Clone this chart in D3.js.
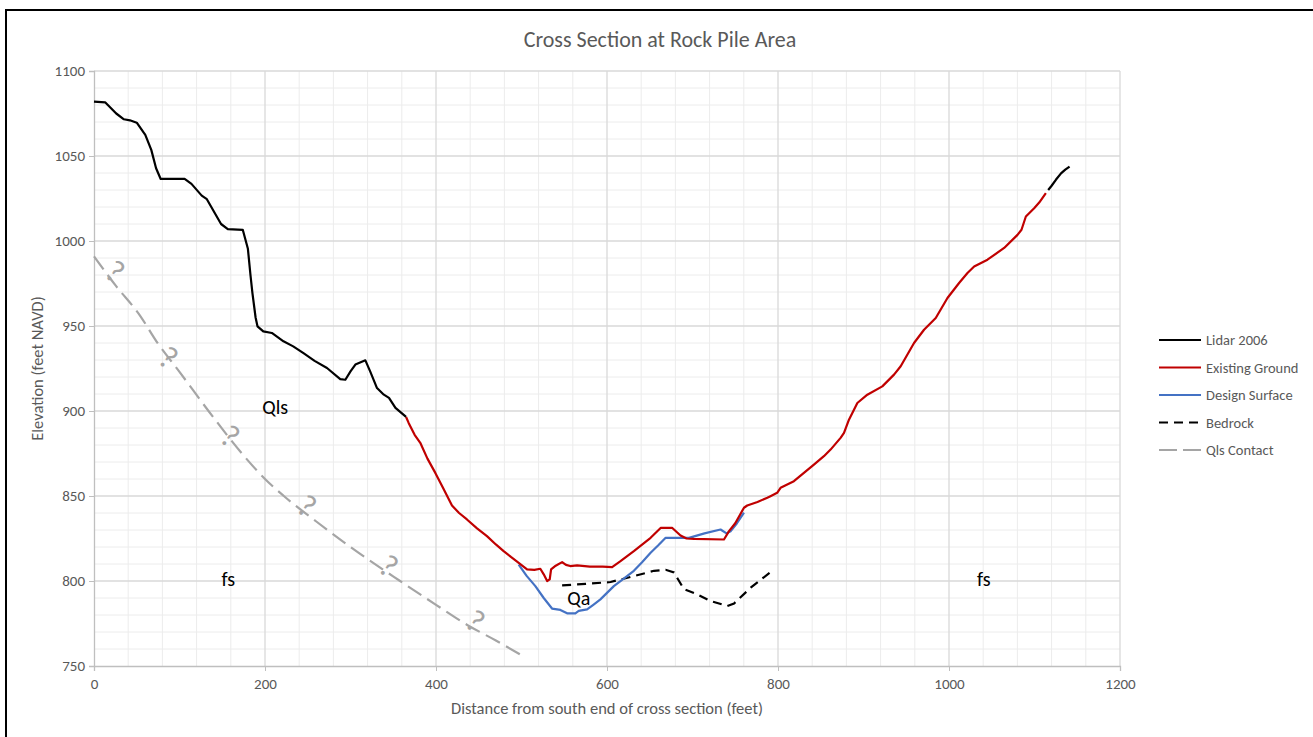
<!DOCTYPE html>
<html><head><meta charset="utf-8">
<script src="https://cdn.jsdelivr.net/npm/d3@7"></script>
<style>
html,body{margin:0;padding:0;background:#fff;}
svg{display:block;font-family:Carlito,Lato,"Open Sans",sans-serif;}
</style></head>
<body>
<svg id="chart" width="1313" height="737"></svg>
<script>
const title = "Cross Section at Rock Pile Area";
const xTitle = "Distance from south end of cross section (feet)";
const yTitle = "Elevation (feet NAVD)";
const xTicks = [0, 200, 400, 600, 800, 1000, 1200];
const yTicks = [750, 800, 850, 900, 950, 1000, 1050, 1100];
const seriesNames = ["Lidar 2006", "Existing Ground", "Design Surface", "Bedrock", "Qls Contact"];

const lidarLeft = [[0,1082],[13,1081.6],[26,1075],[35,1071.6],[42,1071],[50,1069.6],[60,1062.4],[67,1053.6],[72.6,1042.8],[78,1036.5],[106,1036.5],[114,1033.6],[126,1026.7],[132,1024.6],[148.6,1010],[156.5,1007],[174,1006.6],[180,995.4],[183,980],[185.3,969.4],[189,955],[191.2,949.8],[198,946.8],[208,945.9],[221.6,941],[233,938],[245,934],[258,929.5],[272.5,925.3],[288,918.8],[294,918.4],[300,923.3],[305.7,927.3],[317.4,929.8],[323,923.3],[331,913.5],[339,909.6],[345,907.7],[352.6,901.8],[365,896.5]];
const lidarRight = [[1116,1030],[1120,1032.5],[1125,1036],[1131,1039.8],[1136,1042],[1141,1043.8]];
const existingGround = [[365,896.5],[368,893],[375,886],[381.6,881.3],[390,872],[399.2,863.6],[408,855],[418.7,844.4],[427,840],[436.2,836.2],[448,831],[459.6,826.4],[470,821.5],[479.1,817.6],[488,814],[496.7,810.7],[506.5,806.8],[515,806.5],[522,807.2],[526,803.9],[530,800],[533,801],[534.6,806.8],[540,809],[547.5,811.1],[552,809.5],[557,808.8],[565,809.2],[580,808.5],[595,808.5],[606,808.2],[615.8,811.7],[631.4,817.6],[651,825.4],[662.7,831.2],[676.4,831.2],[686,826.8],[693,825],[701.7,824.8],[736.8,824.4],[742.7,829.3],[750,834],[760.2,843.1],[764,844.4],[776,846.5],[787.5,849],[791.2,849.9],[799,851.9],[803,854.8],[818.6,858.7],[830.3,863.6],[842,868.5],[853.7,873.4],[861.5,877.3],[873.2,884.2],[877.2,887.1],[883,894.9],[892.8,904.7],[904.5,909.6],[922,914.5],[935.7,921.4],[943.5,926.3],[959.1,940],[970.8,947.8],[984.5,954.7],[998.2,966.5],[1011.8,975.3],[1021.6,981.2],[1029.4,985],[1045,989],[1064.5,995.9],[1080.1,1003.6],[1084.8,1006.6],[1089.9,1014.4],[1099.6,1019.3],[1105.5,1022.6],[1113.3,1028.1]];
const designSurface = [[496.7,809.7],[506,803],[516.2,797],[526,790],[535.7,783.8],[545.5,783],[553.3,781],[563,781],[566.9,782.4],[576.7,783.3],[584,786],[592.3,789.2],[600,793],[608,797],[620,801.5],[631.4,806],[641,811],[651,816.6],[660,821],[668.6,825.4],[695.9,825.4],[714,828],[732.8,830.3],[739.8,828],[744.5,829.3],[752,834],[760.2,840.2]];
const bedrock = [[547.5,797.4],[575,798.3],[604.2,799.4],[631.4,802.9],[655,806],[668.6,806.6],[678.3,805],[690,795.2],[705.7,792.1],[721.3,788.2],[740.8,785.3],[748.6,786.8],[768.1,796.1],[791.5,805.3]];
const qlsContact = [[0,991],[25,974],[54,956],[73,941],[100,923],[140,896],[173,875],[200,860],[222,850],[260,835],[300,820],[358,800],[400,786],[437,774],[470,765],[501,756]];
const queryMarks = [[24.6,982],[87,931.2],[159.2,885.1],[249,844],[344.5,808.8],[446,776.4]];
const unitLabels = [["Qls",212,902.6],["fs",157,801],["fs",1040.7,801],["Qa",567,790]];

const FONT = "Carlito,Lato,sans-serif";
const svg = d3.select("#chart");
const W = 1313, H = 737;
const m = {left:94, right:1120, top:71, bottom:666};
const x = d3.scaleLinear().domain([0,1200]).range([m.left, m.right]);
const y = d3.scaleLinear().domain([750,1100]).range([m.bottom, m.top]);

svg.append("rect").attr("width",W).attr("height",H).attr("fill","#fff");
svg.append("path").attr("d",`M6,${H+2} V10 H${W+2}`).attr("fill","none").attr("stroke","#000").attr("stroke-width",2);

const g = svg.append("g");
g.selectAll(".mx").data(d3.range(0,1201,40).filter(v=>v%200!==0)).join("line")
  .attr("x1",d=>x(d)).attr("x2",d=>x(d)).attr("y1",m.top).attr("y2",m.bottom)
  .attr("stroke","#ececec").attr("stroke-width",1);
g.selectAll(".my").data(d3.range(750,1101,10).filter(v=>v%50!==0)).join("line")
  .attr("x1",m.left).attr("x2",m.right).attr("y1",d=>y(d)).attr("y2",d=>y(d))
  .attr("stroke","#ececec").attr("stroke-width",1);
g.selectAll(".Mx").data(xTicks.slice(1)).join("line")
  .attr("x1",d=>x(d)).attr("x2",d=>x(d)).attr("y1",m.top).attr("y2",m.bottom)
  .attr("stroke","#d9d9d9").attr("stroke-width",1.3);
g.selectAll(".My").data(yTicks.slice(1)).join("line")
  .attr("x1",m.left).attr("x2",m.right).attr("y1",d=>y(d)).attr("y2",d=>y(d))
  .attr("stroke","#d9d9d9").attr("stroke-width",1.3);

const xAxis = svg.append("g").attr("transform",`translate(0,${m.bottom})`)
  .call(d3.axisBottom(x).tickValues(xTicks).tickSize(5).tickPadding(7).tickFormat(d3.format("d")));
const yAxis = svg.append("g").attr("transform",`translate(${m.left},0)`)
  .call(d3.axisLeft(y).tickValues(yTicks).tickSize(5).tickPadding(4).tickFormat(d3.format("d")));
[xAxis,yAxis].forEach(a=>{
  a.select(".domain").attr("stroke","#bfbfbf").attr("stroke-width",1.3);
  a.selectAll(".tick line").attr("stroke","#bfbfbf");
  a.selectAll(".tick text").attr("fill","#595959").style("font-size","15px").style("font-family",FONT);
});

const line = d3.line().x(d=>x(d[0])).y(d=>y(d[1]));
const plot = svg.append("g");
plot.append("path").datum(qlsContact).attr("d",line.curve(d3.curveMonotoneX)).attr("fill","none")
  .attr("stroke","#a5a5a5").attr("stroke-width",2.2).attr("stroke-dasharray","16,7");
line.curve(d3.curveLinear);
plot.append("path").datum(bedrock).attr("d",line).attr("fill","none")
  .attr("stroke","#000").attr("stroke-width",2.2).attr("stroke-dasharray","9,6");
plot.append("path").datum(designSurface).attr("d",line).attr("fill","none")
  .attr("stroke","#4472c4").attr("stroke-width",2.2).attr("stroke-linejoin","round");
plot.append("path").datum(existingGround).attr("d",line).attr("fill","none")
  .attr("stroke","#c00000").attr("stroke-width",2.2).attr("stroke-linejoin","round");
[lidarLeft,lidarRight].forEach(s=>plot.append("path").datum(s).attr("d",line).attr("fill","none")
  .attr("stroke","#000").attr("stroke-width",2.2).attr("stroke-linejoin","round"));

plot.selectAll(".q").data(queryMarks).join("text")
  .attr("transform",d=>`translate(${x(d[0])},${y(d[1])}) rotate(35)`)
  .attr("text-anchor","middle").attr("dominant-baseline","central")
  .attr("fill","#a5a5a5").style("font-size","32px").text("?");

plot.selectAll(".u").data(unitLabels).join("text")
  .attr("x",d=>x(d[1])).attr("y",d=>y(d[2]))
  .attr("text-anchor","middle").attr("dominant-baseline","central")
  .attr("fill","#000").style("font-size","20px").text(d=>d[0]);

svg.append("text").attr("x",660).attr("y",47).attr("text-anchor","middle")
  .attr("fill","#595959").style("font-size","22px").text(title);
svg.append("text").attr("x",(m.left+m.right)/2).attr("y",714).attr("text-anchor","middle")
  .attr("fill","#595959").style("font-size","16.5px").text(xTitle);
svg.append("text").attr("transform",`translate(43,${(m.top+m.bottom)/2}) rotate(-90)`).attr("text-anchor","middle")
  .attr("fill","#595959").style("font-size","16.5px").text(yTitle);

const legStyles = [
  {c:"#000",dash:null},{c:"#c00000",dash:null},{c:"#4472c4",dash:null},
  {c:"#000",dash:"9,6"},{c:"#a5a5a5",dash:"18,6"}];
const leg = svg.append("g").selectAll("g").data(seriesNames).join("g")
  .attr("transform",(d,i)=>`translate(1159,${340+i*27.5})`);
leg.append("line").attr("x1",0).attr("x2",42).attr("y1",0).attr("y2",0)
  .attr("stroke",(d,i)=>legStyles[i].c).attr("stroke-width",2.2)
  .attr("stroke-dasharray",(d,i)=>legStyles[i].dash);
leg.append("text").attr("x",47).attr("y",0).attr("dominant-baseline","central")
  .attr("fill","#595959").style("font-size","14.5px").text(d=>d);
</script>
</body></html>
